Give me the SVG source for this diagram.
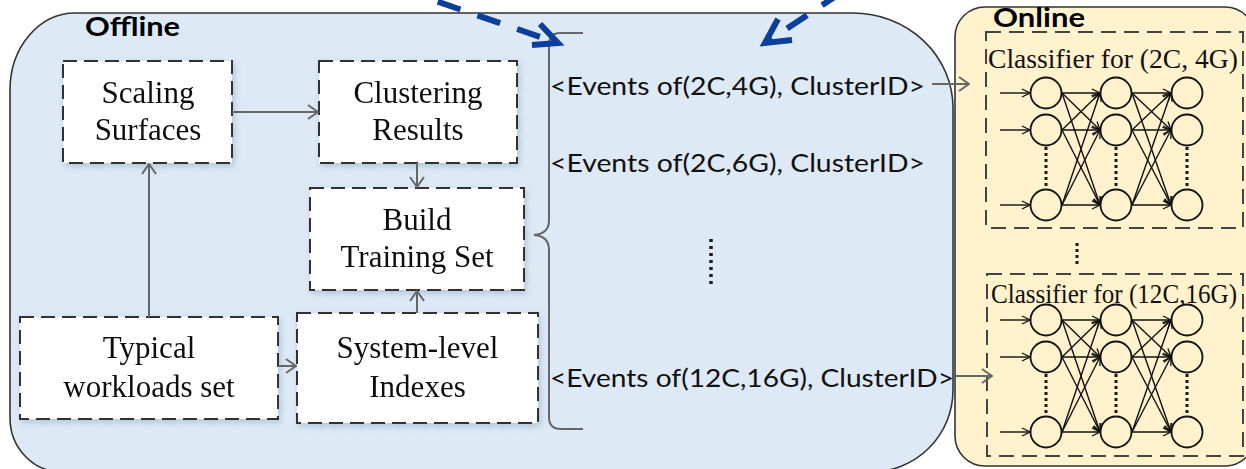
<svg xmlns="http://www.w3.org/2000/svg" width="1246" height="469" viewBox="0 0 1246 469">
  <style>
    .box { fill: #ffffff; stroke: #333333; stroke-width: 2; stroke-dasharray: 14 7; }
    .cbox { fill: none; stroke: #444444; stroke-width: 2; stroke-dasharray: 15 8; }
    .serif { font-family: "Liberation Serif", "Times New Roman", serif; font-size: 31px; fill: #111111; text-anchor: middle; }
    .ctitle { font-family: "Liberation Serif", "Times New Roman", serif; font-size: 27px; fill: #111111; }
    .sans { font-family: Lato, "Liberation Sans", Arial, sans-serif; font-size: 25px; fill: #111111; }
    .head { font-family: Lato, "Liberation Sans", Arial, sans-serif; font-size: 26px; font-weight: 700; fill: #000000; }
    .flow { fill: none; stroke: #666666; stroke-width: 2; }
    .blue { fill: none; stroke: #0b3f9b; stroke-width: 6; }
    .dots { fill: none; stroke: #1a1a1a; stroke-width: 3.5; stroke-dasharray: 3 4; }
    .ndots { fill: none; stroke: #1a1a1a; stroke-width: 3; stroke-dasharray: 3 3; }
    .neuron { fill: none; stroke: #111111; stroke-width: 1.8; }
    .edge { fill: none; stroke: #111111; stroke-width: 1.4; }
  </style>
  <defs>
    <marker id="ah" markerWidth="12" markerHeight="16" refX="11" refY="8" orient="auto" markerUnits="userSpaceOnUse">
      <path d="M1,1 L11,8 L1,15" fill="none" stroke="#666666" stroke-width="2"/>
    </marker>
    <marker id="nh" markerWidth="10" markerHeight="10" refX="9" refY="5" orient="auto" markerUnits="userSpaceOnUse">
      <path d="M1,1 L9,5 L1,9" fill="none" stroke="#111111" stroke-width="1.3"/>
    </marker>
    <filter id="shadow" x="-10%" y="-10%" width="125%" height="130%">
      <feDropShadow dx="2" dy="3" stdDeviation="3" flood-color="#7f9cc0" flood-opacity="0.45"/>
    </filter>
    <!-- three-layer network: columns at 1046/1116/1187, rows at 93/130/205 -->
    <g id="net">
      <g class="edge" marker-end="url(#nh)">
        <line x1="1000" y1="93" x2="1030" y2="93"/>
        <line x1="1000" y1="130" x2="1030" y2="130"/>
        <line x1="1000" y1="205" x2="1030" y2="205"/>
        <line x1="1062" y1="93" x2="1100" y2="93"/>
        <line x1="1062" y1="93" x2="1100" y2="130"/>
        <line x1="1062" y1="93" x2="1100" y2="205"/>
        <line x1="1062" y1="130" x2="1100" y2="93"/>
        <line x1="1062" y1="130" x2="1100" y2="130"/>
        <line x1="1062" y1="130" x2="1100" y2="205"/>
        <line x1="1062" y1="205" x2="1100" y2="93"/>
        <line x1="1062" y1="205" x2="1100" y2="130"/>
        <line x1="1062" y1="205" x2="1100" y2="205"/>
        <line x1="1132" y1="93" x2="1171" y2="93"/>
        <line x1="1132" y1="93" x2="1171" y2="130"/>
        <line x1="1132" y1="93" x2="1171" y2="205"/>
        <line x1="1132" y1="130" x2="1171" y2="93"/>
        <line x1="1132" y1="130" x2="1171" y2="130"/>
        <line x1="1132" y1="130" x2="1171" y2="205"/>
        <line x1="1132" y1="205" x2="1171" y2="93"/>
        <line x1="1132" y1="205" x2="1171" y2="130"/>
        <line x1="1132" y1="205" x2="1171" y2="205"/>
      </g>
      <g class="neuron">
        <circle cx="1046" cy="93" r="15.5"/>
        <circle cx="1046" cy="130" r="15.5"/>
        <circle cx="1046" cy="205" r="15.5"/>
        <circle cx="1116" cy="93" r="15.5"/>
        <circle cx="1116" cy="130" r="15.5"/>
        <circle cx="1116" cy="205" r="15.5"/>
        <circle cx="1187" cy="93" r="15.5"/>
        <circle cx="1187" cy="130" r="15.5"/>
        <circle cx="1187" cy="205" r="15.5"/>
      </g>
      <g class="ndots">
        <line x1="1046" y1="147" x2="1046" y2="190"/>
        <line x1="1116" y1="147" x2="1116" y2="190"/>
        <line x1="1187" y1="147" x2="1187" y2="190"/>
      </g>
    </g>
  </defs>

  <!-- containers -->
  <g id="offline">
    <path d="M75,13 H853 A100,95 0 0 1 953,108 V390 A82,82 0 0 1 871,472 H62 A52,54 0 0 1 10,418 V90 A65,77 0 0 1 75,13 Z" fill="#dde9f5" stroke="#333333" stroke-width="1.6"/>
    <text class="head" x="85" y="36" textLength="95" lengthAdjust="spacingAndGlyphs">Offline</text>
  </g>
  <g id="online">
    <rect x="955" y="7" width="300" height="459" rx="30" ry="30" fill="#fff2cc" stroke="#333333" stroke-width="1.6"/>
    <text class="head" x="993" y="27" textLength="92" lengthAdjust="spacingAndGlyphs">Online</text>
  </g>

  <!-- offline steps -->
  <g id="scaling-surfaces" filter="url(#shadow)">
    <rect class="box" x="63" y="61" width="169" height="102"/>
    <text class="serif" x="148" y="103">Scaling</text>
    <text class="serif" x="148" y="140">Surfaces</text>
  </g>
  <g id="clustering-results" filter="url(#shadow)">
    <rect class="box" x="319" y="61" width="198" height="102"/>
    <text class="serif" x="418" y="103">Clustering</text>
    <text class="serif" x="418" y="140">Results</text>
  </g>
  <g id="build-training-set" filter="url(#shadow)">
    <rect class="box" x="310" y="188" width="214" height="102"/>
    <text class="serif" x="417" y="230">Build</text>
    <text class="serif" x="417" y="267">Training Set</text>
  </g>
  <g id="typical-workloads" filter="url(#shadow)">
    <rect class="box" x="20" y="317" width="258" height="102"/>
    <text class="serif" x="149" y="358">Typical</text>
    <text class="serif" x="149" y="397">workloads set</text>
  </g>
  <g id="system-level-indexes" filter="url(#shadow)">
    <rect class="box" x="297" y="313" width="241" height="110"/>
    <text class="serif" x="417.5" y="358">System-level</text>
    <text class="serif" x="417.5" y="397">Indexes</text>
  </g>

  <!-- per-configuration training records -->
  <g id="event-records">
    <text class="sans" x="550" y="95" textLength="375" lengthAdjust="spacingAndGlyphs">&lt;Events of(2C,4G), ClusterID&gt;</text>
    <text class="sans" x="550" y="172" textLength="375" lengthAdjust="spacingAndGlyphs">&lt;Events of(2C,6G), ClusterID&gt;</text>
    <text class="sans" x="550" y="387" textLength="404" lengthAdjust="spacingAndGlyphs">&lt;Events of(12C,16G), ClusterID&gt;</text>
    <line class="dots" x1="711" y1="239" x2="711" y2="284"/>
  </g>

  <!-- online classifiers -->
  <g id="classifier-2c-4g">
    <rect class="cbox" x="986" y="32" width="257" height="196"/>
    <text class="ctitle" x="988" y="68" textLength="250" lengthAdjust="spacingAndGlyphs">Classifier for (2C, 4G)</text>
    <use href="#net"/>
  </g>
  <g id="classifier-gap">
    <line class="ndots" x1="1077" y1="243" x2="1077" y2="265"/>
  </g>
  <g id="classifier-12c-16g">
    <rect class="cbox" x="987" y="274" width="256" height="182"/>
    <text class="ctitle" x="991" y="303" font-size="25" textLength="246" lengthAdjust="spacingAndGlyphs">Classifier for (12C,16G)</text>
    <use href="#net" transform="translate(0,227)"/>
  </g>

  <!-- connectors -->
  <g id="connectors">
    <line class="flow" x1="232" y1="112" x2="318" y2="112" marker-end="url(#ah)"/>
    <line class="flow" x1="417" y1="163" x2="417" y2="187" marker-end="url(#ah)"/>
    <line class="flow" x1="149" y1="317" x2="149" y2="164" marker-end="url(#ah)"/>
    <line class="flow" x1="278" y1="366" x2="296" y2="366" marker-end="url(#ah)"/>
    <line class="flow" x1="417" y1="313" x2="417" y2="291" marker-end="url(#ah)"/>
    <path class="flow" d="M583,33 H560 Q549,33 549,45 V220 Q549,234 534,235 Q549,236 549,250 V417 Q549,429 561,429 H583"/>
    <line class="flow" x1="932" y1="84" x2="969" y2="84" marker-end="url(#ah)"/>
    <line class="flow" x1="955" y1="376" x2="992" y2="376" marker-end="url(#ah)"/>
    <!-- blue dashed pointers -->
    <line class="blue" x1="398" y1="-12" x2="552" y2="41" stroke-dasharray="24 18"/>
    <polyline class="blue" points="540,24 558,43 532,45" stroke-linejoin="miter"/>
    <line class="blue" x1="842" y1="-8" x2="770" y2="40" stroke-dasharray="24 18"/>
    <polyline class="blue" points="778,19 765,43 792,40" stroke-linejoin="miter"/>
  </g>
</svg>
